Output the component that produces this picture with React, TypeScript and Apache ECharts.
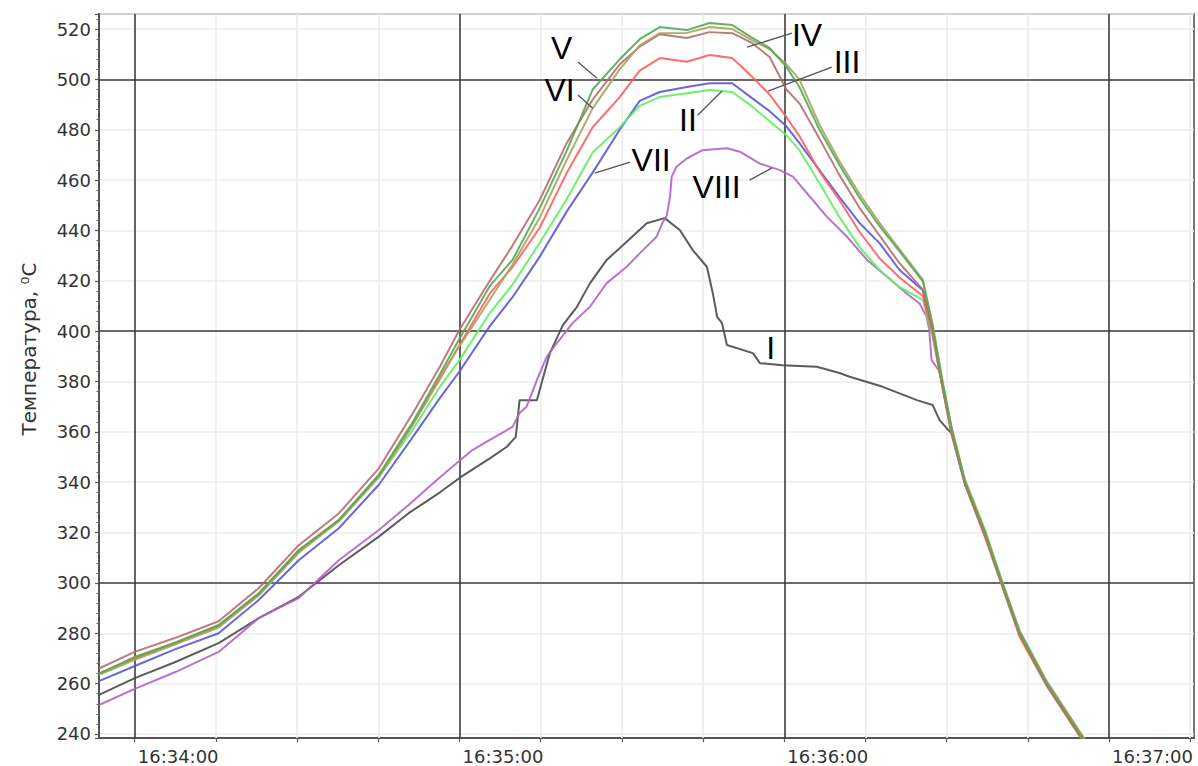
import React, { useEffect, useRef } from 'react';
import * as echarts from 'echarts';

// time in seconds relative to 16:34:00
const X_MIN = -6.6;
const X_MAX = 195.7;
const Y_MIN = 238.4;
const Y_MAX = 526;

const majorTimeTicks = [0, 60, 120, 180];
const timeLabels = ['16:34:00', '16:35:00', '16:36:00', '16:37:00'];
const minorTimeTicks = [15, 30, 45, 75, 90, 105, 135, 150, 165, 195];
const allTimeTicks = [0, 15, 30, 45, 60, 75, 90, 105, 120, 135, 150, 165, 180, 195];
const majorTempLines = [300, 400, 500];

const groupTimes = [-6.6, 0, 7.4, 15.5, 22.9, 30.3, 37.7, 45.1, 51.4, 56.4, 60, 65.6, 69.8, 74.8, 79.8, 84.6, 89.6, 93.3, 97, 102, 106.2, 110.4, 114.1, 117.3, 120.4, 122.8, 126.5, 130.2, 133.9, 137.6, 141.3, 145.6, 147.4, 149.1, 150.9, 153.4, 157.1, 160.2, 163.5, 168.5, 174.6, 175.5];

const valuesV = [264, 270.6, 276.3, 283.3, 295.9, 313, 325, 343, 364, 383, 397, 418, 428.3, 448.8, 471.6, 496, 508, 516, 520.8, 519.6, 522.4, 521.6, 516.5, 512.5, 505, 497, 480, 466, 453, 441.7, 431.7, 419.8, 402, 381, 361, 340, 320, 300, 280, 260, 240, 237];
const valuesVI = [263.5, 269.5, 275.5, 282.3, 295, 312, 324.5, 342, 363, 382, 394, 412.5, 426.5, 445, 468, 488.5, 504, 513.5, 518.4, 518.5, 520.8, 520, 515.5, 512, 506, 500, 482, 467.5, 454.5, 443, 432.5, 420.5, 403, 382, 362, 341, 321, 301, 281, 261, 241, 238];
const valuesIV = [266, 272.6, 278.1, 284.8, 297.9, 315, 327.6, 345.5, 367.5, 386, 400.6, 420, 434, 452, 474.7, 492, 506, 513, 518, 516.5, 518.8, 518.4, 514.4, 508.9, 496, 490.5, 476.5, 462, 449, 438, 427, 416.5, 401, 380, 360, 339, 319, 299.5, 279.5, 259.5, 239.5, 237];
const valuesIII = [264, 270, 276, 282.8, 295.5, 313, 325, 342.5, 363, 381, 394.5, 415, 425.5, 441, 462.8, 481, 493, 503.5, 508.5, 507, 509.7, 508.5, 501, 494, 485, 477.5, 463.5, 452, 439.5, 429, 421.3, 414, 399, 379, 359, 339, 318, 299, 278.5, 259, 239, 236.5];
const valuesII = [264, 270.2, 276, 283, 295.5, 312.5, 324.5, 342, 361, 378, 388.5, 407.2, 418.5, 435, 452.4, 471, 481, 489.5, 493, 494.5, 495.8, 495, 489.2, 483.4, 477.8, 471.9, 458.8, 445.3, 433.4, 424.3, 417.5, 412.4, 398, 379, 360, 340, 320, 300, 280, 260, 240, 237.5];
const valuesVII = [261, 267, 273.6, 280, 293.2, 309, 321.7, 339, 358, 373.5, 384, 402, 413.5, 429.5, 447.5, 463, 480, 491.5, 495, 497, 498.5, 498.5, 492.5, 487.4, 481.4, 474.7, 464, 453.3, 443, 435, 424.3, 416.3, 399.5, 379.5, 359.5, 339.5, 319.5, 299.5, 279.5, 259.5, 239.5, 237];

const timesI = [-6.6, 0, 7.4, 15.5, 22.9, 30.3, 37.7, 45.1, 50.6, 56.4, 60, 65.6, 68.7, 70.4, 71.1, 74.3, 76.7, 79.1, 81.7, 84.1, 87.2, 90.9, 94.6, 97.9, 100.7, 103.1, 105.7, 106.8, 107.6, 108.5, 109.4, 114.2, 115.5, 119.7, 126, 130.2, 132.1, 138.2, 144.5, 147.4, 148.7, 150.2, 151.1, 153.4, 157.1, 160.2, 163.5, 168.5, 174.6, 175.7];
const valuesI = [255.5, 262.2, 268.5, 276.1, 286, 294.5, 307, 318.4, 327.7, 336, 341.7, 349.5, 354, 358, 372.6, 372.6, 391.3, 402.4, 409.7, 419, 428.3, 435.5, 442.9, 444.9, 440.2, 432.2, 425.6, 415.1, 405.7, 403.2, 394.5, 391.3, 387.3, 386.5, 385.9, 383.4, 381.9, 377.9, 372.6, 370.7, 364.7, 361, 359, 339.5, 319.5, 300.5, 280.5, 260.5, 240.5, 237];

const timesVIII = [-6.6, 0, 7.4, 15.5, 22.9, 30.3, 37.7, 45.1, 50.6, 56.4, 60, 62.4, 65.6, 69.8, 71.1, 72.4, 74.3, 76.1, 78, 80.9, 84.1, 87.2, 90.9, 93.3, 96.4, 97.5, 98.3, 98.9, 99.2, 100.1, 102, 104.9, 109.4, 111.8, 115.5, 119.2, 121.6, 124.2, 127.9, 131.6, 135.3, 139, 142.6, 145, 146.3, 146.8, 147.2, 148.7, 151.1, 153.4, 157.1, 160.2, 163.5, 168.5, 174.6, 175.5];
const valuesVIII = [251.5, 257.9, 264.5, 272.6, 286, 294, 309, 321, 331, 342, 348.5, 352.8, 356.8, 362, 367.5, 370, 380.6, 389.8, 395.3, 403.2, 409.7, 419.1, 425.6, 430.9, 437.5, 443, 446, 453.4, 461.4, 465.3, 468.6, 471.9, 472.7, 471.3, 466.6, 464, 461.4, 454.8, 445.4, 437.5, 428.3, 421.6, 415, 411, 405.7, 400.4, 388.5, 384, 360, 340, 320, 300, 280, 260, 240, 237];

// annotation anchors (data coordinates: seconds, °C)
const annotations: Record<string, { text: number[]; from?: number[]; to?: number[] }> = {
  I: { text: [117.5, 393.3] },
  II: { text: [102.2, 483.8], from: [104, 485.8], to: [108.5, 495.4] },
  III: { text: [131.6, 506.9], from: [128.8, 504.9], to: [117, 495.4] },
  IV: { text: [124.2, 517.6], from: [121.4, 518.4], to: [113.1, 512.8] },
  V: { text: [78.9, 512.4], from: [81.9, 506.9], to: [85.4, 500.5] },
  VI: { text: [78.5, 495.8], from: [81.9, 493.8], to: [84.6, 488.6] },
  VII: { text: [95.4, 468], from: [91.5, 467.2], to: [85, 462.8] },
  VIII: { text: [107.5, 457.2], from: [113.6, 460], to: [117.7, 464.8] },
};

const seriesDefs = [
  { name: 'I', color: '#4a4a4a', times: timesI, values: valuesI },
  { name: 'VIII', color: '#b463c8', times: timesVIII, values: valuesVIII },
  { name: 'VII', color: '#5858d6', times: groupTimes, values: valuesVII },
  { name: 'II', color: '#5ef05e', times: groupTimes, values: valuesII },
  { name: 'III', color: '#ff5e5e', times: groupTimes, values: valuesIII },
  { name: 'IV', color: '#b66e6e', times: groupTimes, values: valuesIV },
  { name: 'VI', color: '#aaa35e', times: groupTimes, values: valuesVI },
  { name: 'V', color: '#54a854', times: groupTimes, values: valuesV },
];

const FONT = 'DejaVu Sans';

export default function App() {
  const ref = useRef<HTMLDivElement>(null);
  useEffect(() => {
    if (!ref.current) return;
    const chart = echarts.init(ref.current, undefined, { renderer: 'svg' });

    const gridSeries: any = {
      type: 'line',
      data: [],
      silent: true,
      z: 1,
      markLine: {
        silent: true,
        z: 1,
        symbol: ['none', 'none'],
        label: { show: false },
        emphasis: { disabled: true },
        data: [
          ...minorTimeTicks.map((v) => ({ xAxis: v, lineStyle: { color: '#ececec', width: 1.6, type: 'solid' } })),
          ...majorTimeTicks.map((v) => ({ xAxis: v, lineStyle: { color: '#3c3c3c', width: 1.6, type: 'solid' } })),
          ...majorTempLines.map((v) => ({ yAxis: v, lineStyle: { color: '#3c3c3c', width: 1.6, type: 'solid' } })),
        ],
      },
    };

    const dataSeries = seriesDefs.map((s) => {
      const a = annotations[s.name];
      const out: any = {
        name: s.name,
        type: 'line',
        data: s.times.map((t, i) => [t, s.values[i]]),
        showSymbol: false,
        symbol: 'none',
        silent: true,
        z: 3,
        lineStyle: { color: s.color, width: 2, opacity: 0.9 },
        itemStyle: { color: s.color },
        emphasis: { disabled: true },
        markPoint: {
          silent: true,
          z: 6,
          symbol: 'circle',
          symbolSize: 1,
          itemStyle: { color: 'rgba(0,0,0,0)' },
          label: {
            show: true,
            position: 'inside',
            formatter: s.name,
            fontFamily: 'Liberation Sans',
            fontSize: 32,
            color: '#000',
          },
          data: [{ coord: a.text }],
        },
      };
      if (a.from && a.to) {
        out.markLine = {
          silent: true,
          z: 5,
          symbol: ['none', 'none'],
          label: { show: false },
          emphasis: { disabled: true },
          lineStyle: { color: '#555', width: 1.3, type: 'solid' },
          data: [[{ coord: a.from }, { coord: a.to }]],
        };
      }
      return out;
    });

    chart.setOption({
      animation: false,
      backgroundColor: '#ffffff',
      grid: {
        left: 99,
        right: 4,
        top: 14,
        bottom: 28,
        show: true,
        borderColor: '#777',
        borderWidth: 2,
        outerBoundsMode: 'none',
      },
      xAxis: {
        type: 'value',
        min: X_MIN,
        max: X_MAX,
        axisLine: { show: true, onZero: false, lineStyle: { color: '#555', width: 2 } },
        axisTick: { show: true, length: 4, customValues: allTimeTicks, lineStyle: { color: '#555', width: 1.2 } },
        axisLabel: {
          customValues: majorTimeTicks,
          align: 'left',
          margin: 9,
          padding: [0, 0, 0, 3],
          fontFamily: FONT,
          fontSize: 18,
          color: '#333',
          formatter: (val: number) => {
            const i = majorTimeTicks.indexOf(Math.round(val));
            return i >= 0 ? timeLabels[i] : '';
          },
        },
        splitLine: { show: false },
      },
      yAxis: {
        type: 'value',
        min: Y_MIN,
        max: Y_MAX,
        splitNumber: 14,
        name: 'Температура, ⁰C',
        nameLocation: 'middle',
        nameRotate: 90,
        nameGap: 60,
        nameTextStyle: { fontFamily: FONT, fontSize: 20, color: '#333', padding: [0, 0, 0, 54] },
        axisLine: { show: true, onZero: false, lineStyle: { color: '#555', width: 2 } },
        axisTick: { show: true, length: 4, lineStyle: { color: '#555', width: 1.2 } },
        minorTick: { show: true, splitNumber: 5, length: 2.5, lineStyle: { color: '#666', width: 1 } },
        axisLabel: {
          margin: 8,
          fontFamily: FONT,
          fontSize: 18,
          color: '#333',
          showMinLabel: false,
          showMaxLabel: false,
          formatter: (val: number) => (Math.abs(val % 20) < 1e-6 ? String(val) : ''),
        },
        splitLine: { show: true, lineStyle: { color: '#ececec', width: 1.6 } },
        minorSplitLine: { show: false },
      },
      series: [gridSeries, ...dataSeries],
    });

    return () => chart.dispose();
  }, []);

  return (
    <div
      ref={ref}
      style={{ position: 'fixed', left: 0, top: 0, width: 1198, height: 766, background: '#fff' }}
    />
  );
}
